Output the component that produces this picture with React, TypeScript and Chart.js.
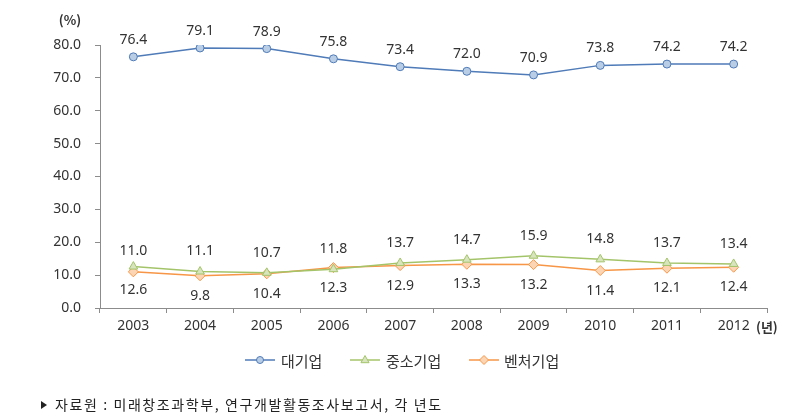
import React, { useEffect, useRef } from "react";
import { Chart, registerables } from "chart.js";

Chart.register(...registerables);

const years = ["2003", "2004", "2005", "2006", "2007", "2008", "2009", "2010", "2011", "2012"];
const large = [76.4, 79.1, 78.9, 75.8, 73.4, 72.0, 70.9, 73.8, 74.2, 74.2];
const sme = [12.6, 11.1, 10.7, 11.8, 13.7, 14.7, 15.9, 14.8, 13.7, 13.4];
const venture = [11.0, 9.8, 10.4, 12.3, 12.9, 13.3, 13.2, 11.4, 12.1, 12.4];
const seriesNames = ["대기업", "중소기업", "벤처기업"];
const yUnit = "(%)";
const xUnit = "(년)";
const sourceText = "자료원 : 미래창조과학부, 연구개발활동조사보고서, 각 년도";

const NUM_FONT = '14px "Noto Sans", sans-serif';
const KR_FONT = '14px "Noto Sans CJK KR", sans-serif';
const LEG_FONT = '15px "Noto Sans CJK KR", sans-serif';
const TEXT = "#333333";

const colors = [
  { line: "#4f7bb8", fill: "#b9cde5", style: "circle", r: 4 },
  { line: "#a4c46a", fill: "#d7e4bd", style: "triangle", r: 5 },
  { line: "#f79646", fill: "#fcd5b5", style: "rectRot", r: 5 },
];

function drawMarker(ctx: CanvasRenderingContext2D, style: string, x: number, y: number, r: number, fill: string, stroke: string) {
  ctx.save();
  ctx.fillStyle = fill;
  ctx.strokeStyle = stroke;
  ctx.lineWidth = 1;
  ctx.beginPath();
  if (style === "circle") {
    ctx.arc(x, y, r, 0, Math.PI * 2);
  } else if (style === "triangle") {
    ctx.moveTo(x, y - r);
    ctx.lineTo(x + r * 0.9, y + r * 0.6);
    ctx.lineTo(x - r * 0.9, y + r * 0.6);
    ctx.closePath();
  } else {
    ctx.moveTo(x, y - r);
    ctx.lineTo(x + r, y);
    ctx.lineTo(x, y + r);
    ctx.lineTo(x - r, y);
    ctx.closePath();
  }
  ctx.fill();
  ctx.stroke();
  ctx.restore();
}

const overlay = {
  id: "overlay",
  afterDatasetsDraw(chart: any) {
    const ctx: any = chart.ctx;
    ctx.save();
    ctx.textAlign = "center";
    ctx.textBaseline = "middle";
    ctx.fillStyle = TEXT;
    ctx.font = NUM_FONT;
    const m0 = chart.getDatasetMeta(0);
    const m1 = chart.getDatasetMeta(1);
    const m2 = chart.getDatasetMeta(2);
    large.forEach((v, i) => {
      const p = m0.data[i];
      ctx.fillText(v.toFixed(1), p.x, p.y - 17);
    });
    sme.forEach((v, i) => {
      const p = m1.data[i];
      const below = i === 0;
      ctx.fillText(v.toFixed(1), p.x, below ? p.y + 23 : p.y - 20);
    });
    venture.forEach((v, i) => {
      const p = m2.data[i];
      const above = i === 0;
      ctx.fillText(v.toFixed(1), p.x, above ? p.y - 21 : p.y + 20);
    });

    // units
    ctx.font = 'bold 13px "Noto Sans CJK KR", sans-serif';
    ctx.fillStyle = TEXT;
    ctx.fillText(yUnit, 70, 20);
    ctx.textAlign = "left";
    ctx.fillText(xUnit, 756, 327);

    // legend
    const items = [
      { x: 245, tx: 281 },
      { x: 350, tx: 386 },
      { x: 469, tx: 504 },
    ];
    const ly = 360;
    ctx.font = LEG_FONT;
    items.forEach((it, k) => {
      const c = colors[k];
      ctx.strokeStyle = c.line;
      ctx.lineWidth = 1.5;
      ctx.beginPath();
      ctx.moveTo(it.x, ly);
      ctx.lineTo(it.x + 30, ly);
      ctx.stroke();
      drawMarker(ctx, c.style, it.x + 15, ly, c.r - 0.5, c.fill, c.line);
      ctx.fillStyle = TEXT;
      ctx.textAlign = "left";
      ctx.fillText(seriesNames[k], it.tx, ly + 1);
    });

    // source
    ctx.fillStyle = "#222";
    ctx.beginPath();
    ctx.moveTo(41, 401);
    ctx.lineTo(47, 405);
    ctx.lineTo(41, 409);
    ctx.closePath();
    ctx.fill();
    ctx.font = KR_FONT;
    ctx.textAlign = "left";
    ctx.letterSpacing = "1.6px";
    ctx.fillText(sourceText, 55, 405);
    ctx.letterSpacing = "0px";
    ctx.restore();
  },
};

export default function App() {
  const ref = useRef<HTMLCanvasElement>(null);
  useEffect(() => {
    if (!ref.current) return;
    const mk = (label: string, data: number[], k: number) => ({
      label,
      data,
      borderColor: colors[k].line,
      backgroundColor: colors[k].fill,
      pointBackgroundColor: colors[k].fill,
      pointBorderColor: colors[k].line,
      pointBorderWidth: 1,
      pointStyle: colors[k].style,
      pointRadius: colors[k].r,
      borderWidth: 1.5,
      tension: 0,
    });
    const chart = new Chart(ref.current, {
      type: "line",
      data: {
        labels: years,
        datasets: [mk(seriesNames[0], large, 0), mk(seriesNames[1], sme, 1), mk(seriesNames[2], venture, 2)],
      },
      options: {
        animation: false,
        responsive: true,
        maintainAspectRatio: false,
        layout: { padding: { top: 45, right: 44, left: 0, bottom: 0 } },
        plugins: { legend: { display: false }, tooltip: { enabled: false } },
        scales: {
          x: {
            offset: true,
            grid: { offset: true, drawOnChartArea: false, tickLength: 5, color: "#8c8c8c" },
            border: { color: "#8c8c8c" },
            ticks: { color: TEXT, font: { family: '"Noto Sans", sans-serif', size: 14 }, padding: 5, maxRotation: 0 },
            afterFit: (s: any) => { s.height = 112; },
          },
          y: {
            min: 0,
            max: 80,
            grid: { drawOnChartArea: false, tickLength: 5, color: "#8c8c8c" },
            border: { color: "#8c8c8c" },
            ticks: {
              stepSize: 10,
              color: TEXT,
              padding: 14,
              font: { family: '"Noto Sans", sans-serif', size: 14 },
              callback: (v: any) => Number(v).toFixed(1),
            },
            afterFit: (s: any) => { s.width = 100; },
          },
        },
      },
      plugins: [overlay],
    });
    return () => chart.destroy();
  }, []);
  return (
    <div style={{ position: "fixed", left: 0, top: 0, width: 811, height: 420, background: "#fff" }}>
      <canvas ref={ref} />
    </div>
  );
}
